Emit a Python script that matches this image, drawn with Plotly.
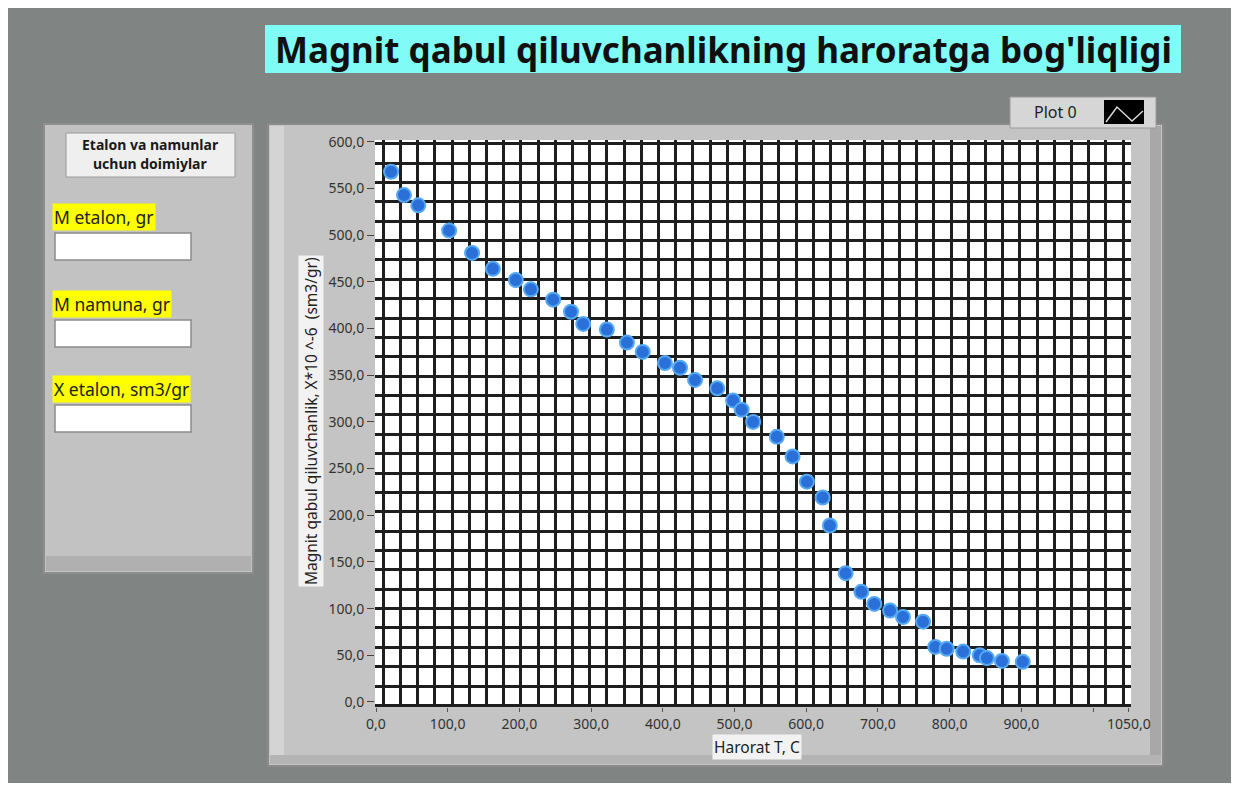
import plotly.graph_objects as go

# Measured temperature (C) and magnetic susceptibility (X*10^-6 sm3/gr)
temperature = [21, 39, 59, 102, 134, 163, 195, 216, 247, 272, 289, 322, 350, 372,
               403, 424, 445, 476, 498, 510, 526, 559, 581, 601, 623, 633,
               655, 677, 695, 717, 735, 763, 780, 796, 819, 842, 852, 873, 902]
susceptibility = [568, 543, 532, 505, 481, 464, 452, 442, 431, 418, 405, 399, 385, 375,
                  363, 358, 345, 336, 323, 313, 300, 284, 263, 236, 219, 189,
                  138, 118, 105, 98, 91, 86, 59, 57, 54, 50, 47, 44, 43]

y_tick_values = list(range(0, 601, 50))
y_tick_labels = [f"{v},0" for v in y_tick_values]
x_tick_values = [0, 100, 200, 300, 400, 500, 600, 700, 800, 900, 1000, 1050]
x_tick_labels = ["0,0", "100,0", "200,0", "300,0", "400,0", "500,0", "600,0",
                 "700,0", "800,0", "900,0", "", "1050,0"]

W, H = 1238, 789
L, R, T, B = 375, 107, 140, 82
PW, PH = W - L - R, H - T - B


def px(x):
    return (x - L) / PW


def py(y):
    return (H - B - y) / PH


def rect(x0, y0, x1, y1, fill, line="rgba(0,0,0,0)", width=0):
    return dict(type="rect", xref="paper", yref="paper",
                x0=px(x0), x1=px(x1), y0=py(y1), y1=py(y0),
                fillcolor=fill, line=dict(color=line, width=width), layer="below")


def text(x, y, s, size=13, color="#222", bg=None, bold=False, family="Noto Sans",
         angle=0, xanchor="center", pad=1):
    a = dict(xref="paper", yref="paper", x=px(x), y=py(y), text=f"<b>{s}</b>" if bold else s,
             showarrow=False, font=dict(size=size, color=color, family=family),
             xanchor=xanchor, yanchor="middle", textangle=angle, borderpad=pad)
    if bg:
        a["bgcolor"] = bg
    return a


shapes = [
    # front panel background
    rect(8, 8, 1231, 783, "#808482"),
    # title plate
    rect(265, 25, 1181, 73, "#80fbf6"),
    # constants panel
    rect(44, 124, 253, 573, "#c2c2c2", "#8e8e8e", 2),
    rect(46, 556, 251, 571, "#b0b0b0"),
    rect(66, 133, 235, 177, "#efefef", "#9a9a9a", 1),
    rect(55, 233, 191, 260, "#ffffff", "#8c8c8c", 1.5),
    rect(55, 320, 191, 347, "#ffffff", "#8c8c8c", 1.5),
    rect(55, 405, 191, 432, "#ffffff", "#8c8c8c", 1.5),
    # graph panel
    rect(268, 124, 1163, 766, "#c4c4c4", "#8a8a8a", 2),
    rect(270, 126, 284, 764, "#d4d4d4"),
    rect(1150, 126, 1161, 764, "#a8a8a8"),
    rect(270, 755, 1161, 764, "#b4b4b4"),
    # plotting area
    rect(375, 140, 1131, 707, "#ffffff"),
    # legend
    rect(1010, 97, 1156, 128, "#d6d6d6", "#9a9a9a", 1),
    rect(1104, 100, 1144, 124, "#000000"),
    dict(type="path", xref="paper", yref="paper", layer="above",
         path=(f"M {px(1106)} {py(122)} L {px(1117)} {py(107)} "
               f"L {px(1132)} {py(121)} L {px(1143)} {py(111)}"),
         line=dict(color="#d8d8d8", width=1.5)),
]

annotations = [
    text(723, 50, "Magnit qabul qiluvchanlikning haroratga bog'liqligi", size=35,
         color="#101010", bold=True),
    text(150, 144, "Etalon va namunlar", size=14, color="#1a1a1a", bold=True),
    text(150, 163, "uchun doimiylar", size=14, color="#1a1a1a", bold=True),
    text(52, 217, "M etalon, gr", size=17.5, color="#222", bg="#ffff00", xanchor="left"),
    text(52, 304, "M namuna, gr", size=17.5, color="#222", bg="#ffff00", xanchor="left"),
    text(52, 389, "X etalon, sm3/gr", size=17.5, color="#222", bg="#ffff00", xanchor="left"),
    text(1055, 112, "Plot 0", size=16, color="#222"),
    text(311, 421, "Magnit qabul qiluvchanlik, X*10 ^-6  (sm3/gr)", size=15.5,
         color="#222", bg="#f2f2f2", angle=-90),
    text(757, 747, "Harorat T, C", size=15.5, color="#222", bg="#f2f2f2"),
]

fig = go.Figure()
fig.add_trace(go.Scatter(
    x=temperature, y=susceptibility, mode="markers",
    marker=dict(size=14, color="#2a70d8", line=dict(color="#55a8f2", width=2)),
    showlegend=False, hoverinfo="x+y",
))

fig.update_layout(
    width=W, height=H,
    margin=dict(l=L, r=R, t=T, b=B, pad=0),
    paper_bgcolor="#ffffff",
    plot_bgcolor="rgba(0,0,0,0)",
    shapes=shapes,
    annotations=annotations,
    font=dict(family="Noto Sans", size=14, color="#333"),
    xaxis=dict(
        range=[-1.4, 1053], showgrid=False, zeroline=False, showline=False,
        tickvals=x_tick_values, ticktext=x_tick_labels,
        ticks="outside", ticklen=4, tickcolor="#555", tickwidth=1,
        tickfont=dict(size=14, color="#333", family="Noto Sans"),
        minor=dict(tick0=10, dtick=24, showgrid=True, gridcolor="#1e1e1e",
                   gridwidth=3, ticks=""),
    ),
    yaxis=dict(
        range=[-5.4, 602], showgrid=False, zeroline=False, showline=False,
        tickvals=y_tick_values, ticktext=y_tick_labels,
        ticks="outside", ticklen=7, tickcolor="#444", tickwidth=1.2,
        tickfont=dict(size=14, color="#333", family="Noto Sans"),
        minor=dict(tick0=17, dtick=20.75, showgrid=True, gridcolor="#1e1e1e",
                   gridwidth=3, ticks=""),
    ),
)

fig.write_html("out.html")
